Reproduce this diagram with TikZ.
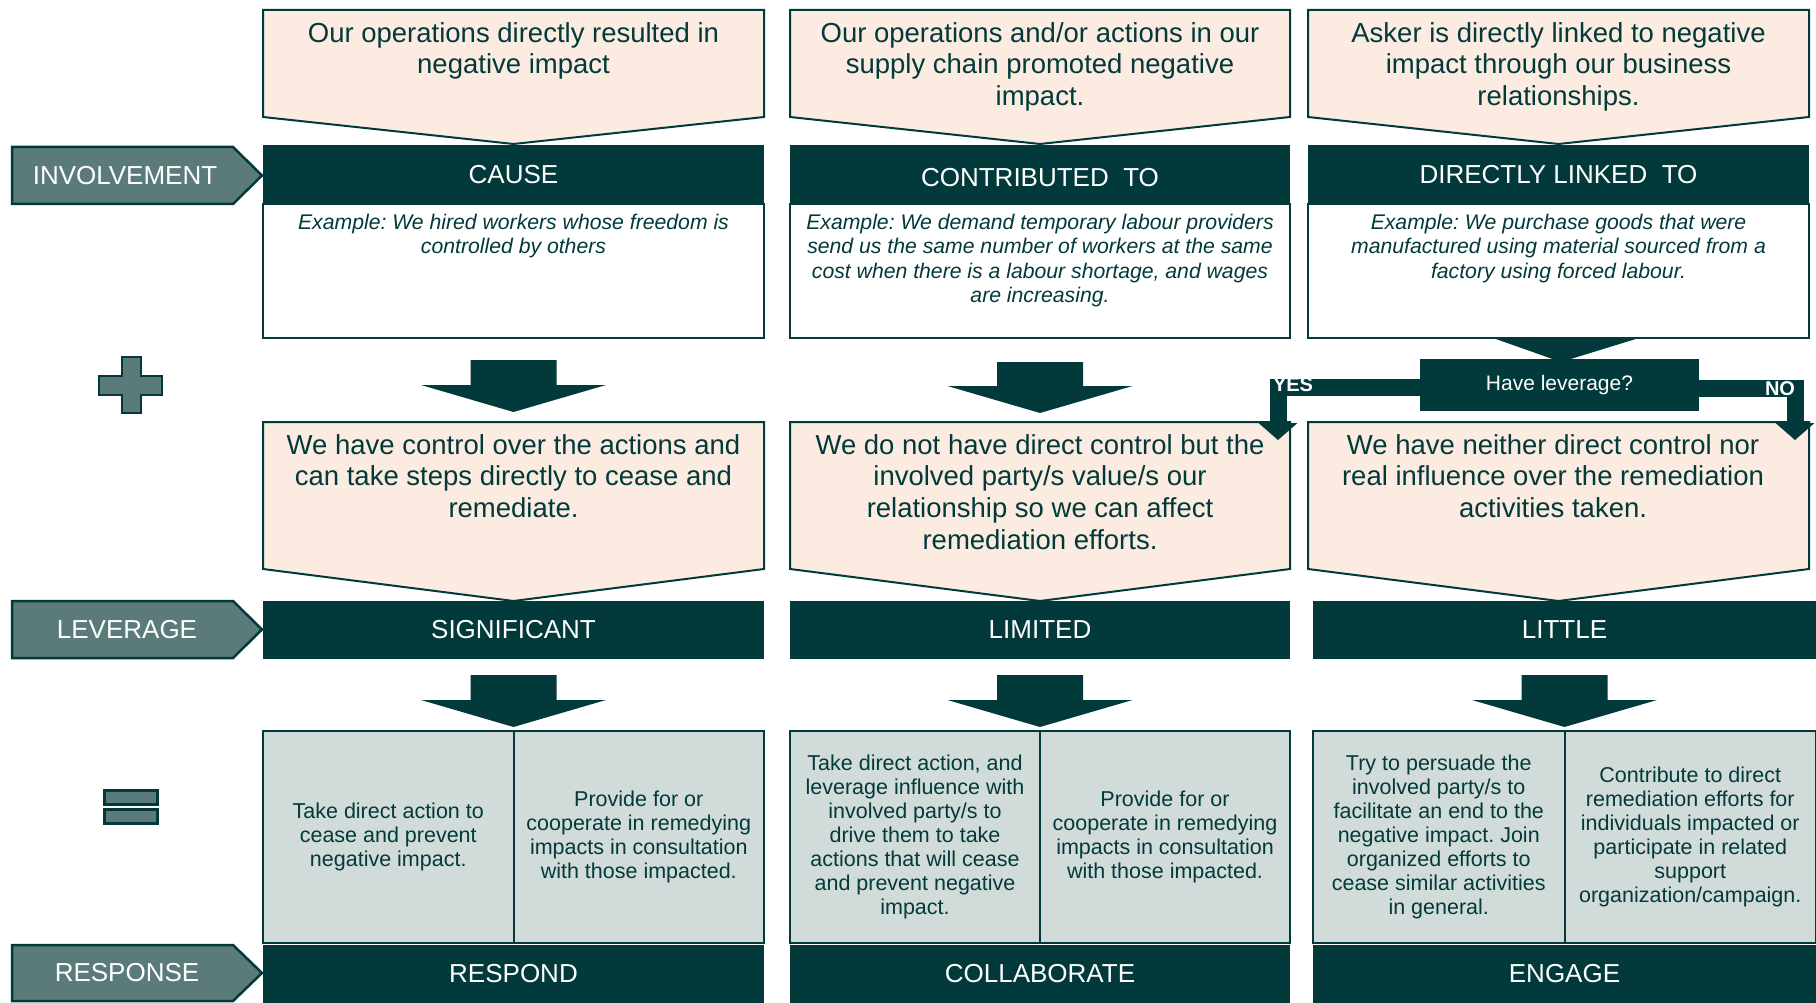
\documentclass[tikz,border=0pt]{standalone}
\usepackage{fontspec}
\setmainfont{Liberation Sans}
\usetikzlibrary{arrows.meta}
\definecolor{darkteal}{HTML}{023A3B}
\definecolor{tagteal}{HTML}{5A7B7A}
\definecolor{pinkfill}{HTML}{FBEBE0}
\definecolor{greyfill}{HTML}{D1DBD9}
\frenchspacing
\begin{document}
\begin{tikzpicture}[x=1pt, y=-1pt,
  every node/.style={inner sep=0pt, text=darkteal},
  bigtext/.style={align=center, font=\fontsize{27.5}{31.8}\selectfont},
  extext/.style={align=center, font=\fontsize{21.2}{24.3}\selectfont\itshape},
  resptext/.style={align=center, font=\fontsize{21.5}{24}\selectfont},
  bar/.style={fill=darkteal, text=white, font=\fontsize{26}{30}\selectfont},
  tagbox/.style={fill=tagteal, draw=darkteal, line width=2.5pt},
  tagtext/.style={text=white, font=\fontsize{26}{30}\selectfont},
  pinkbox/.style={fill=pinkfill, draw=darkteal, line width=2pt},
  exbox/.style={draw=darkteal, fill=white, line width=2pt, minimum height=134pt},
  cell/.style={draw=darkteal, fill=greyfill, line width=2pt, minimum height=212pt, resptext},
  block/.style={fill=darkteal},
  decision/.style={line width=17pt, draw=darkteal, -{Triangle[width=39pt, length=17pt, line width=0pt]}},
  yesno/.style={text=white, font=\fontsize{20}{24}\selectfont\bfseries}]
\useasboundingbox (0,0) rectangle (1816,1003);

% row labels
\draw[tagbox] (12,147) -- (233,147) -- (262,175.5) -- (233,204) -- (12,204) -- cycle;
\draw[tagbox] (12,601) -- (233,601) -- (262,629.5) -- (233,658) -- (12,658) -- cycle;
\draw[tagbox] (12,945) -- (233,945) -- (262,973) -- (233,1001) -- (12,1001) -- cycle;
\node[tagtext] (involvement) at (125,175.5) {INVOLVEMENT};
\node[tagtext] (leverage) at (127,629.5) {LEVERAGE};
\node[tagtext] (response) at (127,973) {RESPONSE};

% plus and equals
\draw[tagbox, line width=2pt] (121.5,357) -- (140.5,357) -- (140.5,376) -- (162,376) -- (162,395) -- (140.5,395)
  -- (140.5,413) -- (121.5,413) -- (121.5,395) -- (99,395) -- (99,376) -- (121.5,376) -- cycle;
\draw[tagbox, line width=3pt] (104,790) rectangle (157,804);
\draw[tagbox, line width=3pt] (104,809) rectangle (157,823);

% involvement
\draw[pinkbox] (263,10) -- (764,10) -- (764,117) -- (513.5,144) -- (263,117) -- cycle;
\draw[pinkbox] (790,10) -- (1290,10) -- (1290,117) -- (1040,144) -- (790,117) -- cycle;
\draw[pinkbox] (1308,10) -- (1809,10) -- (1809,117) -- (1558.5,144) -- (1308,117) -- cycle;
\node[bigtext, anchor=north] (inv1) at (513.5,22) {Our operations directly resulted in\\negative impact};
\node[bigtext, anchor=north] (inv2) at (1040,22) {Our operations and/or actions in our\\supply chain promoted negative\\impact.};
\node[bigtext, anchor=north] (inv3) at (1558.5,22) {Asker is directly linked to negative\\impact through our business\\relationships.};

\node[exbox, minimum width=501pt] (ex1) at (513.5,271) {};
\node[exbox, minimum width=500pt] (ex2) at (1040,271) {};
\node[exbox, minimum width=501pt] (ex3) at (1558.5,271) {};
\node[bar, minimum width=501pt, minimum height=59pt] (cause) at (513.5,174.5) {CAUSE};
\node[bar, minimum width=500pt, minimum height=59pt, text height=25pt] (contrib) at (1040,174.5) {CONTRIBUTED~~TO};
\node[bar, minimum width=501pt, minimum height=59pt] (linked) at (1558.5,174.5) {DIRECTLY LINKED~~TO};
\node[extext, anchor=north] (ex1t) at (513.5,214) {Example: We hired workers whose freedom is\\controlled by others};
\node[extext, anchor=north] (ex2t) at (1040,214) {Example: We demand temporary labour providers\\send us the same number of workers at the same\\cost when there is a labour shortage, and wages\\are increasing.};
\node[extext, anchor=north] (ex3t) at (1558.5,214) {Example: We purchase goods that were\\manufactured using material sourced from a\\factory using forced labour.};

% arrows to leverage
\fill[block] (470.5,360) -- (556.5,360) -- (556.5,385) -- (606,385) -- (513.5,412) -- (421,385) -- (470.5,385) -- cycle;
\fill[block] (997,362) -- (1083,362) -- (1083,386) -- (1132.5,386) -- (1040,413) -- (947.5,386) -- (997,386) -- cycle;

% leverage
\draw[pinkbox] (263,422) -- (764,422) -- (764,569) -- (513.5,601) -- (263,569) -- cycle;
\draw[pinkbox] (790,422) -- (1290,422) -- (1290,569) -- (1040,601) -- (790,569) -- cycle;
\draw[pinkbox] (1308,422) -- (1809,422) -- (1809,569) -- (1558.5,601) -- (1308,569) -- cycle;
\node[bigtext, anchor=north] (lev1) at (513.5,434) {We have control over the actions and\\can take steps directly to cease and\\remediate.};
\node[bigtext, anchor=north] (lev2) at (1040,434) {We do not have direct control but the\\involved party/s value/s our\\relationship so we can affect\\remediation efforts.};
\node[bigtext, anchor=north] (lev3) at (1553,434) {We have neither direct control nor\\real influence over the remediation\\activities taken.};

% decision
\fill[block] (1493,338) -- (1639,338) -- (1561,362) -- cycle;
\node[fill=darkteal, text=white, minimum width=279pt, minimum height=52pt, font=\fontsize{21}{25}\selectfont] (haveLev) at (1559.5,385) {Have leverage?};
\coordinate (yesTip) at (1278,440);
\coordinate (noTip) at (1795,440);
\draw[decision] ([yshift=-2.5pt]haveLev.west) -| (yesTip);
\draw[decision] ([yshift=-3pt]haveLev.east) -| (noTip);
\node[yesno] (yes) at (1293,385) {YES};
\node[yesno] (no) at (1780,389) {NO};

\node[bar, minimum width=501pt, minimum height=58pt] (significant) at (513.5,630) {SIGNIFICANT};
\node[bar, minimum width=500pt, minimum height=58pt] (limited) at (1040,630) {LIMITED};
\node[bar, minimum width=503pt, minimum height=58pt] (little) at (1564.5,630) {LITTLE};

% arrows to response
\fill[block] (470.5,675) -- (556.5,675) -- (556.5,700) -- (606,700) -- (513.5,727) -- (421,700) -- (470.5,700) -- cycle;
\fill[block] (997,675) -- (1083,675) -- (1083,700) -- (1132.5,700) -- (1040,727) -- (947.5,700) -- (997,700) -- cycle;
\fill[block] (1521.5,675) -- (1607.5,675) -- (1607.5,700) -- (1657,700) -- (1564.5,727) -- (1472,700) -- (1521.5,700) -- cycle;

% response
\node[cell, minimum width=250.5pt] (respA) at (388.25,837) {Take direct action to\\cease and prevent\\negative impact.};
\node[cell, minimum width=250.5pt] (respB) at (638.75,837) {Provide for or\\cooperate in remedying\\impacts in consultation\\with those impacted.};
\node[cell, minimum width=250pt] (collA) at (915,837) {Take direct action, and\\leverage influence with\\involved party/s to\\drive them to take\\actions that will cease\\and prevent negative\\impact.};
\node[cell, minimum width=250pt] (collB) at (1165,837) {Provide for or\\cooperate in remedying\\impacts in consultation\\with those impacted.};
\node[cell, minimum width=251.5pt] (engA) at (1438.75,837) {Try to persuade the\\involved party/s to\\facilitate an end to the\\negative impact. Join\\organized efforts to\\cease similar activities\\in general.};
\node[cell, minimum width=251.5pt] (engB) at (1690.25,837) {Contribute to direct\\remediation efforts for\\individuals impacted or\\participate in related\\support\\organization/campaign.};
\node[bar, minimum width=501pt, minimum height=58pt] (respond) at (513.5,974) {RESPOND};
\node[bar, minimum width=500pt, minimum height=58pt] (collaborate) at (1040,974) {COLLABORATE};
\node[bar, minimum width=503pt, minimum height=58pt] (engage) at (1564.5,974) {ENGAGE};
\end{tikzpicture}
\end{document}
